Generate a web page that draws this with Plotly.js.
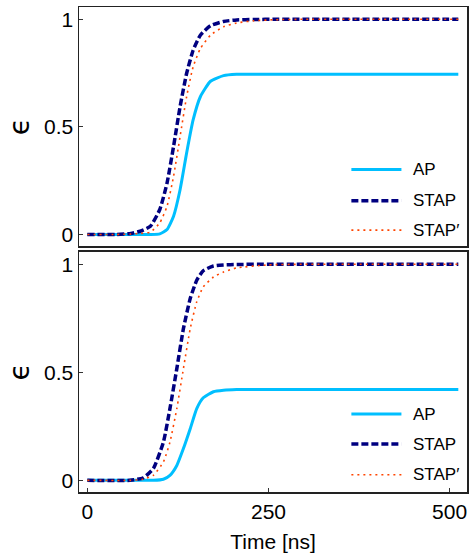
<!DOCTYPE html>
<html>
<head>
<meta charset="utf-8">
<script src="https://cdn.plot.ly/plotly-3.0.1.min.js"></script>
<style>html,body{margin:0;padding:0;background:#fff}#chart{width:475px;height:554px}</style>
</head>
<body>
<div id="chart"></div>
<script>
// Top panel data
const timeTop = [0, 40, 60, 73, 87, 100, 110, 119, 128, 137, 146, 156, 170, 188, 206, 230, 260, 300, 400, 512];
const apTop    = [0, 0, 0, 0, 0, 0.003, 0.023, 0.085, 0.208, 0.378, 0.532, 0.640, 0.712, 0.738, 0.744, 0.745, 0.745, 0.745, 0.745, 0.745];
const stapTop  = [0, 0, 0.005, 0.015, 0.038, 0.116, 0.239, 0.409, 0.594, 0.748, 0.856, 0.926, 0.970, 0.990, 0.997, 0.999, 1, 1, 1, 1];
const stapPTop = [0, 0, 0.002, 0.005, 0.011, 0.054, 0.131, 0.270, 0.455, 0.640, 0.779, 0.864, 0.926, 0.965, 0.983, 0.993, 0.998, 1, 1, 1];

// Bottom panel data
const timeBot = [0, 59, 77, 91, 105, 114, 123.5, 132.6, 142, 151, 160, 174, 188, 206, 250, 300, 400, 512];
const apBot    = [0, 0, 0, 0, 0.005, 0.023, 0.069, 0.147, 0.239, 0.332, 0.382, 0.410, 0.417, 0.420, 0.420, 0.420, 0.420, 0.420];
const stapBot  = [0, 0, 0.011, 0.054, 0.177, 0.332, 0.517, 0.702, 0.841, 0.926, 0.970, 0.992, 0.997, 0.999, 1, 1, 1, 1];
const stapPBot = [0, 0, 0.005, 0.023, 0.085, 0.177, 0.332, 0.517, 0.702, 0.826, 0.895, 0.941, 0.964, 0.983, 0.997, 1, 1, 1];

const seriesNames = ['AP', 'STAP', 'STAP′'];
const xTicks = [0, 250, 500];
const yTicks = [0, 0.5, 1];
const yTickText = ['0', '0.5', '1'];

const styles = [
  {color: '#00BFFF', width: 3, dash: 'solid'},
  {color: '#000080', width: 3.5, dash: '7px,3px'},
  {color: '#FF4500', width: 1.6, dash: '2px,4px'}
];

function mk(x, y, i, xa, ya) {
  return {x: x, y: y, type: 'scatter', mode: 'lines', name: seriesNames[i], xaxis: xa, yaxis: ya,
    line: {color: styles[i].color, width: styles[i].width, dash: styles[i].dash, shape: 'spline', smoothing: 0.5},
    showlegend: false, hoverinfo: 'skip'};
}

const data = [
  mk(timeTop, apTop, 0, 'x', 'y'),
  mk(timeTop, stapTop, 1, 'x', 'y'),
  mk(timeTop, stapPTop, 2, 'x', 'y'),
  mk(timeBot, apBot, 0, 'x2', 'y2'),
  mk(timeBot, stapBot, 1, 'x2', 'y2'),
  mk(timeBot, stapPBot, 2, 'x2', 'y2')
];

const font = {family: 'Liberation Sans, Arial, sans-serif', color: '#000'};
const frame = {showline: true, linecolor: '#222', linewidth: 1.5, mirror: true, zeroline: false, showgrid: false};

const yBase = Object.assign({}, frame, {
  range: [-0.054, 1.057], tickmode: 'array', tickvals: yTicks, ticktext: yTickText,
  ticks: 'inside', ticklen: 4, tickwidth: 1, tickcolor: '#333',
  tickfont: {family: font.family, size: 21, color: '#000'},
  title: {text: 'ϵ', font: {family: 'DejaVu Sans, sans-serif', size: 28, color: '#000'}, standoff: 6}
});

const layout = {
  width: 475, height: 554,
  margin: {l: 79, r: 7.5, t: 6.7, b: 61.7},
  paper_bgcolor: '#fff', plot_bgcolor: '#fff',
  font: font,
  xaxis: Object.assign({}, frame, {domain: [0, 1], range: [-11.5, 524], anchor: 'y', showticklabels: false, ticks: '', matches: 'x2'}),
  yaxis: Object.assign({}, yBase, {domain: [0.507, 1], anchor: 'x'}),
  xaxis2: Object.assign({}, frame, {domain: [0, 1], range: [-11.5, 524], anchor: 'y2',
    tickmode: 'array', tickvals: xTicks, ticks: 'inside', ticklen: 4, tickwidth: 1, tickcolor: '#333',
    tickfont: {family: font.family, size: 21, color: '#000'},
    title: {text: 'Time [ns]', font: {family: font.family, size: 21, color: '#000'}, standoff: 12}}),
  yaxis2: Object.assign({}, yBase, {domain: [0, 0.495], anchor: 'x2'}),
  shapes: [],
  annotations: []
};

// legends drawn as paper-anchored samples
const legendRows = [[0.665, 0.6005, 0.540], [0.1606, 0.0988, 0.0356]];
legendRows.forEach(function(rows) {
  rows.forEach(function(yy, i) {
    layout.shapes.push({type: 'line', xref: 'paper', yref: 'paper', x0: 0.702, x1: 0.831, y0: yy, y1: yy,
      line: {color: styles[i].color, width: styles[i].width, dash: styles[i].dash}});
    layout.annotations.push({xref: 'paper', yref: 'paper', x: 0.856, y: yy, xanchor: 'left', yanchor: 'middle',
      text: seriesNames[i], showarrow: false, font: {family: font.family, size: 17, color: '#000'}});
  });
});

Plotly.newPlot('chart', data, layout, {staticPlot: true, displayModeBar: false});
</script>
</body>
</html>
